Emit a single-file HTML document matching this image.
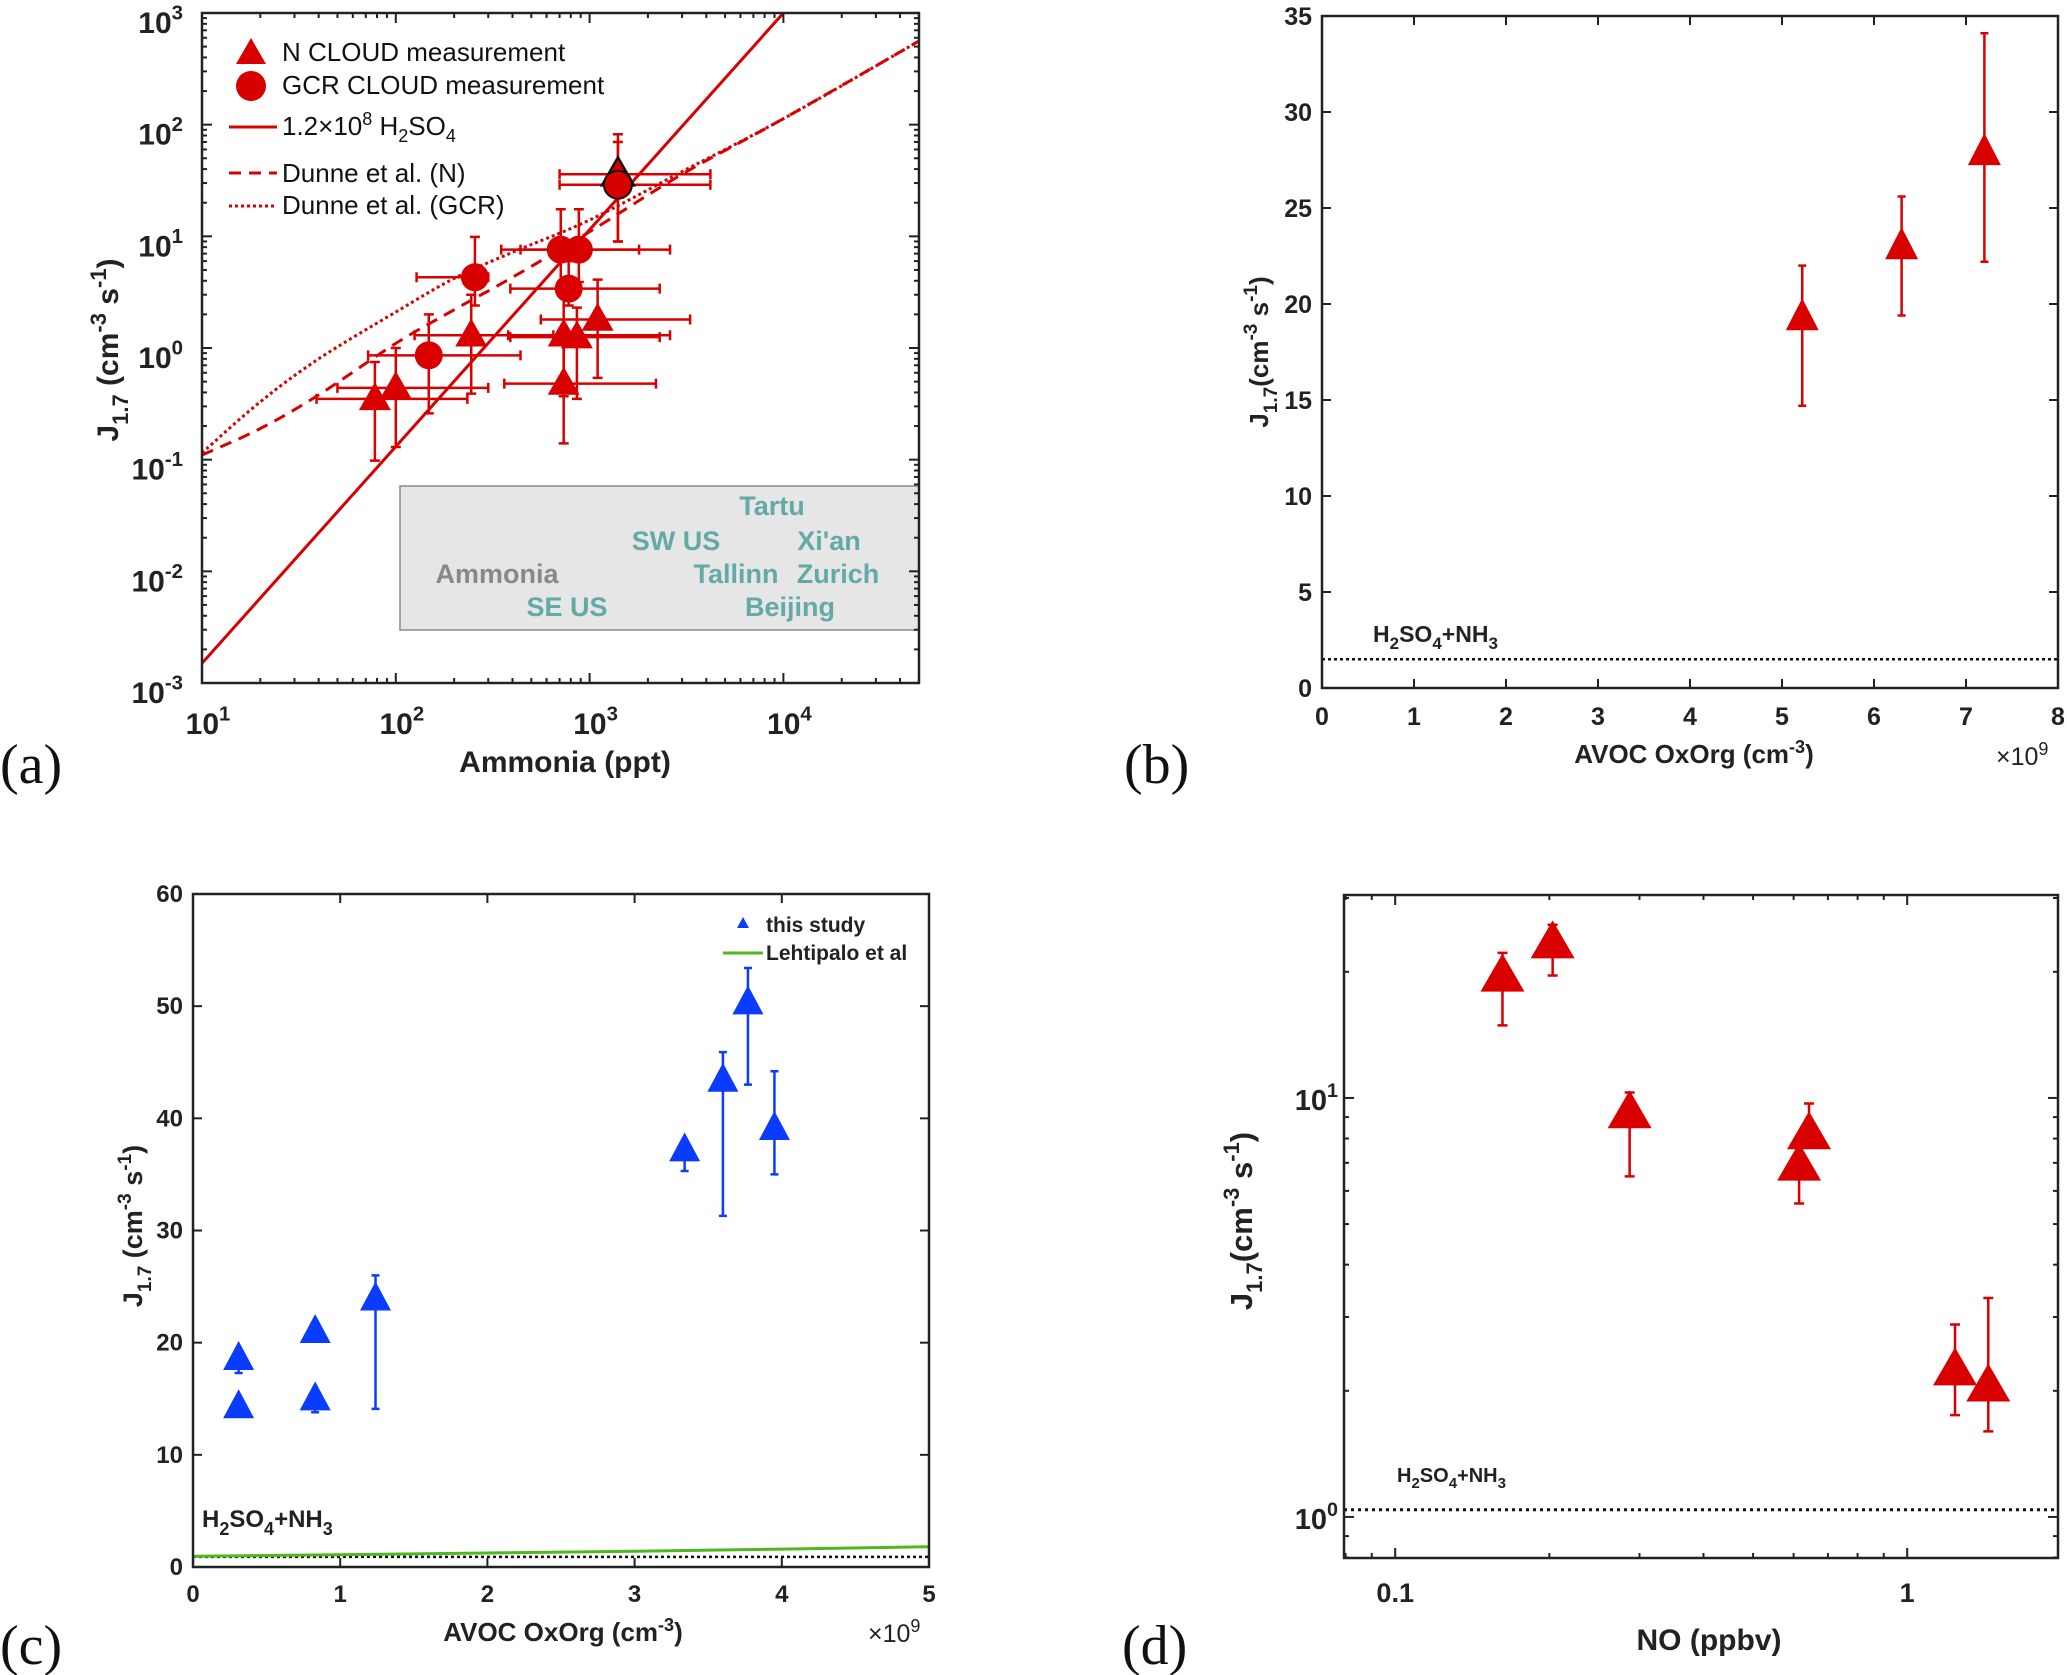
<!DOCTYPE html>
<html><head><meta charset="utf-8"><style>
html,body{margin:0;padding:0;background:#fff;}
svg{display:block;font-family:"Liberation Sans",Arial,sans-serif;}
.tk{font-weight:bold;fill:#222;}
.pl{font-family:"Liberation Serif",serif;font-size:56px;fill:#111;}
</style></head><body>
<svg id="chart" xmlns="http://www.w3.org/2000/svg" width="2067" height="1675" viewBox="0 0 2067 1675">
<rect x="0" y="0" width="2067" height="1675" fill="#fff"/>
<g id="pa">
 <rect x="400" y="486" width="519" height="144" fill="#e6e6e6" stroke="#888" stroke-width="1.5"/>
 <g font-weight="bold" font-size="27" fill="#63aaa6" text-anchor="middle">
  <text x="772" y="515">Tartu</text>
  <text x="676" y="550">SW US</text>
  <text x="829" y="550">Xi'an</text>
  <text x="497" y="583" fill="#888">Ammonia</text>
  <text x="736" y="583">Tallinn</text>
  <text x="838" y="583">Zurich</text>
  <text x="567" y="616">SE US</text>
  <text x="790" y="616">Beijing</text>
 </g>
 <text class="tk" x="565" y="772" font-size="30" text-anchor="middle">Ammonia (ppt)</text>
 <text class="tk" transform="translate(118,350) rotate(-90)" font-size="30" text-anchor="middle">J<tspan font-size="22" dy="10">1.7</tspan><tspan dy="-10"> (cm</tspan><tspan font-size="22" dy="-12">-3</tspan><tspan dy="12"> s</tspan><tspan font-size="22" dy="-12">-1</tspan><tspan dy="12">)</tspan></text>
 <text class="pl" x="0" y="783">(a)</text>
 <g font-size="26" fill="#111">
  <text x="282" y="61">N CLOUD measurement</text>
  <text x="282" y="94">GCR CLOUD measurement</text>
  <text x="282" y="135">1.2×10<tspan font-size="18" dy="-10">8</tspan><tspan dy="10"> H</tspan><tspan font-size="18" dy="7">2</tspan><tspan dy="-7">SO</tspan><tspan font-size="18" dy="7">4</tspan></text>
  <text x="282" y="182">Dunne et al. (N)</text>
  <text x="282" y="214">Dunne et al. (GCR)</text>
  <path d="M251,38 L266,64 L236,64 Z" fill="#d90000"/>
  <circle cx="251" cy="86" r="15" fill="#d90000"/>
  <line x1="229" y1="127" x2="277" y2="127" stroke="#d90000" stroke-width="3"/>
  <line x1="229" y1="173" x2="277" y2="173" stroke="#d90000" stroke-width="3" stroke-dasharray="12,8"/>
  <line x1="229" y1="206" x2="277" y2="206" stroke="#d90000" stroke-width="3" stroke-dasharray="3,3"/>
 </g>
</g>
<g id="pb">
 <text class="tk" x="1694" y="763" font-size="26" text-anchor="middle">AVOC OxOrg (cm<tspan font-size="18" dy="-10">-3</tspan><tspan dy="10">)</tspan></text>
 <text x="1996" y="765" font-size="25" fill="#222">×10<tspan font-size="18" dy="-10">9</tspan></text>
 <text class="tk" transform="translate(1268,352) rotate(-90)" font-size="26" text-anchor="middle">J<tspan font-size="19" dy="9">1.7</tspan><tspan dy="-9">(cm</tspan><tspan font-size="19" dy="-11">-3</tspan><tspan dy="11"> s</tspan><tspan font-size="19" dy="-11">-1</tspan><tspan dy="11">)</tspan></text>
 <text class="tk" x="1373" y="642" font-size="23">H<tspan font-size="17" dy="7">2</tspan><tspan dy="-7">SO</tspan><tspan font-size="17" dy="7">4</tspan><tspan dy="-7">+NH</tspan><tspan font-size="17" dy="7">3</tspan></text>
 <text class="pl" x="1124" y="783">(b)</text>
</g>
<g id="pc">
 <text class="tk" x="563" y="1641" font-size="26" text-anchor="middle">AVOC OxOrg (cm<tspan font-size="18" dy="-10">-3</tspan><tspan dy="10">)</tspan></text>
 <text x="868" y="1642" font-size="25" fill="#222">×10<tspan font-size="18" dy="-10">9</tspan></text>
 <text class="tk" transform="translate(142,1226) rotate(-90)" font-size="27" text-anchor="middle">J<tspan font-size="19" dy="9">1.7</tspan><tspan dy="-9"> (cm</tspan><tspan font-size="19" dy="-11">-3</tspan><tspan dy="11"> s</tspan><tspan font-size="19" dy="-11">-1</tspan><tspan dy="11">)</tspan></text>
 <text class="tk" x="202" y="1527" font-size="24">H<tspan font-size="18" dy="8">2</tspan><tspan dy="-8">SO</tspan><tspan font-size="18" dy="8">4</tspan><tspan dy="-8">+NH</tspan><tspan font-size="18" dy="8">3</tspan></text>
 <g>
  <path d="M743,917 L749,928 L737,928 Z" fill="#0a3cff"/>
  <text class="tk" x="766" y="932" font-size="21">this study</text>
  <line x1="723" y1="953" x2="763" y2="953" stroke="#4fb81e" stroke-width="3"/>
  <text class="tk" x="766" y="960" font-size="21">Lehtipalo et al</text>
 </g>
 <text class="pl" x="0" y="1664">(c)</text>
</g>
<g id="pd">
 <text class="tk" x="1709" y="1650" font-size="30" text-anchor="middle">NO (ppbv)</text>
 <text class="tk" transform="translate(1252,1221) rotate(-90)" font-size="31" text-anchor="middle">J<tspan font-size="22" dy="10">1.7</tspan><tspan dy="-10">(cm</tspan><tspan font-size="22" dy="-13">-3</tspan><tspan dy="13"> s</tspan><tspan font-size="22" dy="-13">-1</tspan><tspan dy="13">)</tspan></text>
 <text class="tk" x="1397" y="1482" font-size="20">H<tspan font-size="15" dy="6">2</tspan><tspan dy="-6">SO</tspan><tspan font-size="15" dy="6">4</tspan><tspan dy="-6">+NH</tspan><tspan font-size="15" dy="6">3</tspan></text>
 <text class="pl" x="1122" y="1664">(d)</text>
</g>
</svg>
<script>
// ---- Panel (a) data ----
const aNX=[78,100,245,735,735,860,1100,1400];
const aNY=[0.35,0.44,1.3,0.48,1.3,1.25,1.8,36];
const aNXlo=[39,50,125,363,380,390,560,700];
const aNXhi=[234,300,650,2200,2600,2300,3300,4200];
const aNYlo=[0.098,0.13,0.39,0.14,0.37,0.35,0.54,9];
const aNYhi=[0.75,1.0,3.0,1.2,3.5,2.3,4.1,82];
const aGX=[148,256,710,880,780,1400];
const aGY=[0.86,4.3,7.6,7.6,3.4,29];
const aGXlo=[72,128,350,440,390,700];
const aGXhi=[440,300,1800,2600,2300,4200];
const aGYlo=[0.26,2.4,3.5,3.9,2.4,9];
const aGYhi=[2.0,9.9,17.5,17.5,6,70];
const aFitX=[10,10000];
const aFitY=[0.0015,1000];
const aDunX=[10,20,40,100,200,400,1000,3000,10000,50000];
const aDunNY=[0.11,0.19,0.38,1.1,2.2,4.3,11,36,113,560];
const aDunGY=[0.115,0.33,0.8,2.1,4.2,7.2,14,38,113,560];
const aXTicks=[1,2,3,4];
const aYTicks=[-3,-2,-1,0,1,2,3];
// ---- Panel (b) data ----
const bX=[5.22,6.3,7.2];
const bY=[19.3,23.0,27.9];
const bLo=[14.7,19.4,22.2];
const bHi=[22.0,25.6,34.1];
const bBase=1.5;
const bXTicks=[0,1,2,3,4,5,6,7,8];
const bYTicks=[0,5,10,15,20,25,30,35];
// ---- Panel (c) data ----
const cX=[0.31,0.31,0.83,0.83,1.24,3.34,3.6,3.77,3.95];
const cY=[18.6,14.3,21.0,15.0,23.9,37.2,43.4,50.3,39.1];
const cLo=[17.3,14.3,20.3,13.8,14.1,35.3,31.3,43.0,35.0];
const cHi=[18.6,14.3,21.0,15.0,26.0,37.2,45.9,53.4,44.2];
const cLehX=[0,1,2,3,4,5];
const cLehY=[0.95,1.1,1.25,1.4,1.6,1.8];
const cBase=0.9;
const cXTicks=[0,1,2,3,4,5];
const cYTicks=[0,10,20,30,40,50,60];
// ---- Panel (d) data ----
const dX=[0.162,0.203,0.287,0.615,0.643,1.24,1.44];
const dY=[19.5,23.4,9.2,6.9,8.2,2.24,2.05];
const dLo=[14.9,19.6,6.5,5.6,8.2,1.75,1.6];
const dHi=[22.2,25.9,10.3,6.9,9.7,2.88,3.33];
const dBase=1.04;
const dXTickVals=[0.1,1];
const dXTickLabels=['0.1','1'];
const dYTicks=[0,1];

const NS='http://www.w3.org/2000/svg';
const svg=document.getElementById('chart');
function mk(tag,attrs,parent){const e=document.createElementNS(NS,tag);for(const k in attrs)e.setAttribute(k,attrs[k]);(parent||svg).appendChild(e);return e;}
const RED='#d90000', BLUE='#0a3cff', AX='#222';

function linScale(d0,d1,p0,p1){return v=>p0+(v-d0)*(p1-p0)/(d1-d0);}
function logScale(d0,d1,p0,p1){return v=>p0+(Math.log10(v)-d0)*(p1-p0)/(d1-d0);}

function box(g,L,T,R,B,name){
  const r=mk('rect',{x:L,y:T,width:R-L,height:B-T,fill:'none',stroke:AX,'stroke-width':2.5},g);
  
  
}
function tickX(g,px,T,B,len){
  const t1=mk('line',{x1:px,y1:B,x2:px,y2:B-len,stroke:AX,'stroke-width':2},g);
  
  
  const t2=mk('line',{x1:px,y1:T,x2:px,y2:T+len,stroke:AX,'stroke-width':2},g);
  
  
}
function tickY(g,py,L,R,len){
  const t1=mk('line',{x1:L,y1:py,x2:L+len,y2:py,stroke:AX,'stroke-width':2},g);
  
  
  const t2=mk('line',{x1:R,y1:py,x2:R-len,y2:py,stroke:AX,'stroke-width':2},g);
  
  
}
function tri(g,x,y,b,h,fill,stroke,name){
  const p=mk('path',{d:`M${x},${y-h*0.6} L${x+b/2},${y+h*0.4} L${x-b/2},${y+h*0.4} Z`,fill:fill},g);
  if(stroke){p.setAttribute('stroke',stroke);p.setAttribute('stroke-width',2.5);}
  
  
}
function vErr(g,x,y0,y1,col,cap){
  const l=mk('path',{d:`M${x},${y0} L${x},${y1} M${x-cap},${y0} L${x+cap},${y0} M${x-cap},${y1} L${x+cap},${y1}`,stroke:col,'stroke-width':2.5,fill:'none'},g);
  
  
}
function hErr(g,y,x0,x1,col,cap){
  const l=mk('path',{d:`M${x0},${y} L${x1},${y} M${x0},${y-cap} L${x0},${y+cap} M${x1},${y-cap} L${x1},${y+cap}`,stroke:col,'stroke-width':2.5,fill:'none'},g);
  
  
}
function poly(g,xs,ys,sx,sy,attrs,name,smooth){
  const P=xs.map((v,i)=>[sx(v),sy(ys[i])]);
  let d='M'+P[0][0].toFixed(1)+','+P[0][1].toFixed(1)+' ';
  for(let i=1;i<P.length;i++){
    if(smooth){
      const p0=P[Math.max(0,i-2)],p1=P[i-1],p2=P[i],p3=P[Math.min(P.length-1,i+1)];
      const c1=[p1[0]+(p2[0]-p0[0])/6,p1[1]+(p2[1]-p0[1])/6];
      const c2=[p2[0]-(p3[0]-p1[0])/6,p2[1]-(p3[1]-p1[1])/6];
      d+=`C${c1[0].toFixed(1)},${c1[1].toFixed(1)} ${c2[0].toFixed(1)},${c2[1].toFixed(1)} ${p2[0].toFixed(1)},${p2[1].toFixed(1)} `;
    } else d+='L'+P[i][0].toFixed(1)+','+P[i][1].toFixed(1)+' ';
  }
  const a=Object.assign({d:d,fill:'none'},attrs);
  const p=mk('path',a,g);
  
  
  return p;
}
function powLabel(g,x,y,exp,fs,anchor,name){
  const t=mk('text',{x:x,y:y,'font-size':fs,'text-anchor':anchor,class:'tk'},g);
  
  
  const a=mk('tspan',{},t);a.textContent='10';
  const b=mk('tspan',{'font-size':fs*0.68,dy:-fs*0.45},t);b.textContent=String(exp);
}
function txt(g,x,y,s,fs,anchor,name){
  const t=mk('text',{x:x,y:y,'font-size':fs,'text-anchor':anchor,class:'tk'},g);
  
  
  t.textContent=s;
}

// ===== Panel A =====
(function(){
  const g=document.getElementById('pa');
  const L=202,R=919,T=13,B=683;
  const sx=logScale(1,4.70,L,L+3.70*193.8), sy=logScale(-3,3,B,T);
  const clip=mk('clipPath',{id:'clipA'},g);
  
  
  const cr=mk('rect',{x:L,y:T,width:R-L,height:B-T},clip);
  
  
  const cg=mk('g',{'clip-path':'url(#clipA)'},g);
  
  
  poly(cg,aFitX.concat([100000]),aFitY.concat([aFitY[1]*Math.pow(10,(Math.log10(aFitY[1])-Math.log10(aFitY[0]))/3)]),sx,sy,{stroke:RED,'stroke-width':3},'h2so4-fit-line',false);
  poly(cg,aDunX,aDunNY,sx,sy,{stroke:RED,'stroke-width':3,'stroke-dasharray':'12,8'},'dunne-n-line',true);
  poly(cg,aDunX,aDunGY,sx,sy,{stroke:RED,'stroke-width':3,'stroke-dasharray':'3,3'},'dunne-gcr-line',true);
  aNX.forEach((v,i)=>{
    hErr(cg,sy(aNY[i]),sx(aNXlo[i]),sx(aNXhi[i]),RED,5);
    vErr(cg,sx(v),sy(aNYlo[i]),sy(aNYhi[i]),RED,5);
  });
  aGX.forEach((v,i)=>{
    hErr(cg,sy(aGY[i]),sx(aGXlo[i]),sx(aGXhi[i]),RED,5);
    vErr(cg,sx(v),sy(aGYlo[i]),sy(aGYhi[i]),RED,5);
  });
  aNX.forEach((v,i)=>{tri(cg,sx(v),sy(aNY[i]),32,28,RED,i===aNX.length-1?'#111':null,'n-cloud-point');});
  aGX.forEach((v,i)=>{
    const c=mk('circle',{cx:sx(v),cy:sy(aGY[i]),r:14,fill:RED},cg);
    if(i===aGX.length-1){c.setAttribute('stroke','#111');c.setAttribute('stroke-width',2);}
    
    
  });
  for(let d=1;d<5;d++)for(let m=1;m<10;m++){const v=m*Math.pow(10,d);const p=sx(v);if(p<=R+0.5)tickX(g,p,T,B,m===1?10:5);}
  for(let d=-3;d<3;d++)for(let m=1;m<10;m++){const v=m*Math.pow(10,d);const p=sy(v);if(p>=T-0.5)tickY(g,p,L,R,m===1?10:5);}
  tickY(g,T,L,R,10);
  box(g,L,T,R,B,'plot-frame-a');
  aXTicks.forEach(e=>powLabel(g,sx(Math.pow(10,e))+6,734,e,30,'middle','x-tick-label-a'));
  aYTicks.forEach(e=>powLabel(g,183,sy(Math.pow(10,e))+20,e,30,'end','y-tick-label-a'));
})();

// ===== Panel B =====
(function(){
  const g=document.getElementById('pb');
  const L=1322,R=2058,T=16,B=688;
  const sx=linScale(0,8,L,R), sy=linScale(0,35,B,T);
  const bl=mk('line',{x1:L,y1:sy(bBase),x2:R,y2:sy(bBase),stroke:'#111','stroke-width':2.5,'stroke-dasharray':'3,3'},g);
  
  
  bX.forEach((v,i)=>{vErr(g,sx(v),sy(bLo[i]),sy(bHi[i]),RED,4);});
  bX.forEach((v,i)=>{tri(g,sx(v),sy(bY[i]),33,32,RED,null,'avoc-point-b');});
  bXTicks.forEach(v=>{tickX(g,sx(v),T,B,9);txt(g,sx(v),725,String(v),25,'middle','x-tick-label-b');});
  bYTicks.forEach(v=>{tickY(g,sy(v),L,R,9);txt(g,L-10,sy(v)+9,String(v),25,'end','y-tick-label-b');});
  box(g,L,T,R,B,'plot-frame-b');
})();

// ===== Panel C =====
(function(){
  const g=document.getElementById('pc');
  const L=193,R=929,T=894,B=1567;
  const sx=linScale(0,5,L,R), sy=linScale(0,60,B,T);
  const bl=mk('line',{x1:L,y1:sy(cBase),x2:R,y2:sy(cBase),stroke:'#111','stroke-width':2.5,'stroke-dasharray':'3,3'},g);
  
  
  poly(g,cLehX,cLehY,sx,sy,{stroke:'#4fb81e','stroke-width':3},'lehtipalo-line',false);
  cX.forEach((v,i)=>{if(cHi[i]-cLo[i]>0.3)vErr(g,sx(v),sy(cLo[i]),sy(cHi[i]),BLUE,4);});
  cX.forEach((v,i)=>{tri(g,sx(v),sy(cY[i]),31,29,BLUE,null,'this-study-point');});
  cXTicks.forEach(v=>{tickX(g,sx(v),T,B,9);txt(g,sx(v),1602,String(v),24,'middle','x-tick-label-c');});
  cYTicks.forEach(v=>{tickY(g,sy(v),L,R,9);txt(g,L-10,sy(v)+8,String(v),24,'end','y-tick-label-c');});
  box(g,L,T,R,B,'plot-frame-c');
})();

// ===== Panel D =====
(function(){
  const g=document.getElementById('pd');
  const L=1344,R=2058,T=895,B=1558;
  const x0=-1.1, sx=logScale(x0,x0+(R-L)/512,L,R);
  const y0=-0.098, sy=logScale(y0,y0+(B-T)/419,B,T);
  const bl=mk('line',{x1:L,y1:sy(dBase),x2:R,y2:sy(dBase),stroke:'#111','stroke-width':3,'stroke-dasharray':'3,4'},g);
  
  
  dX.forEach((v,i)=>{if(dHi[i]-dLo[i]>0.01)vErr(g,sx(v),sy(dLo[i]),sy(dHi[i]),RED,5);});
  dX.forEach((v,i)=>{tri(g,sx(v),sy(dY[i]),44,38,RED,null,'no-point-d');});
  for(let d=-2;d<1;d++)for(let m=1;m<10;m++){const v=m*Math.pow(10,d);const p=sx(v);if(p>=L&&p<=R)tickX(g,p,T,B,m===1?10:5);}
  for(let d=-1;d<2;d++)for(let m=1;m<10;m++){const v=m*Math.pow(10,d);const p=sy(v);if(p>=T&&p<=B)tickY(g,p,L,R,m===1?10:5);}
  dXTickVals.forEach((v,i)=>txt(g,sx(v),1602,dXTickLabels[i],27,'middle','x-tick-label-d'));
  dYTicks.forEach(e=>powLabel(g,L-6,sy(Math.pow(10,e))+12,e,29,'end','y-tick-label-d'));
  box(g,L,T,R,B,'plot-frame-d');
})();
</script>
</body></html>
